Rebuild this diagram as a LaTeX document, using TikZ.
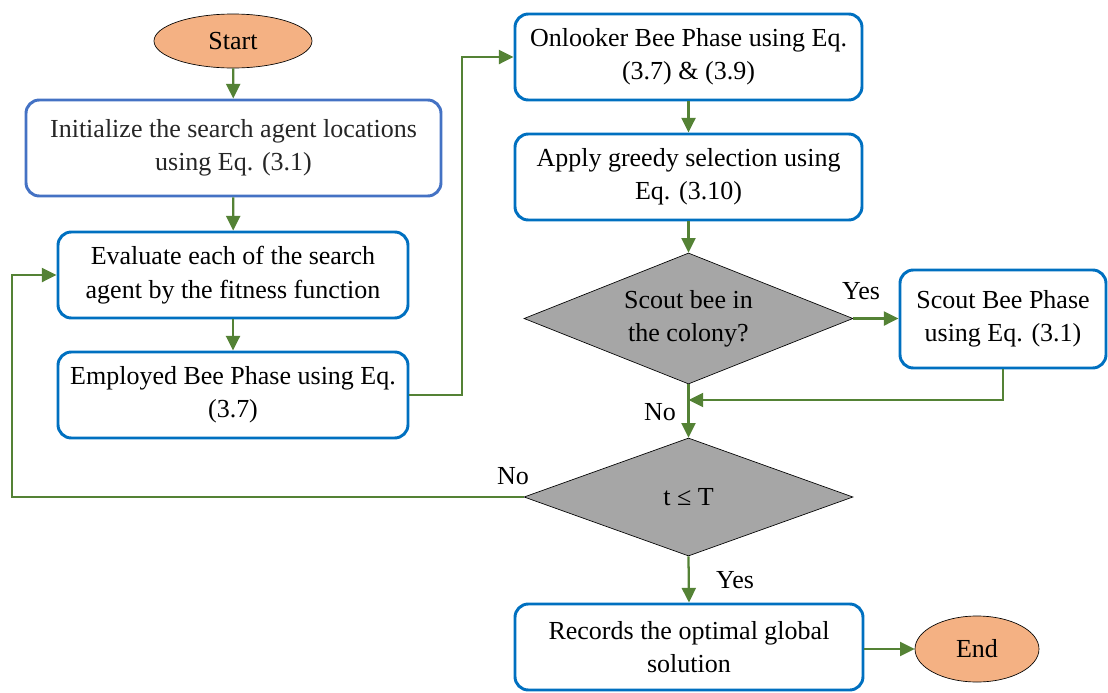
\documentclass[tikz,border=0pt]{standalone}
\usepackage{fontspec}
\setmainfont{Liberation Serif}
\newfontfamily\flowfont{Liberation Serif}
\usetikzlibrary{shapes.geometric,arrows.meta}
\definecolor{boxblue}{HTML}{0070C0}
\definecolor{firstblue}{HTML}{4472C4}
\definecolor{flowgreen}{HTML}{548235}
\definecolor{termfill}{HTML}{F4B183}
\definecolor{decfill}{HTML}{A6A6A6}
\tikzset{
  flowtext/.style={font=\flowfont\fontsize{19.5}{25}\selectfont},
  procbox/.style={flowtext, draw=boxblue, line width=2.2pt, rounded corners=10pt, fill=white,
    align=center, inner sep=2pt},
  terminal/.style={flowtext, ellipse, draw=black, line width=0.5pt, fill=termfill,
    inner sep=0pt},
  decision/.style={flowtext, diamond, draw=black, line width=0.5pt, fill=decfill,
    inner sep=0pt, align=center},
  flow/.style={draw=flowgreen, line width=1.7pt,
    -{Triangle[length=11pt,width=10.5pt]}},
  tag/.style={flowtext}
}
\begin{document}
\begin{tikzpicture}[x=0.75pt,y=-0.75pt]
\useasboundingbox (0,0) rectangle (1108,693);

% terminals
\node[terminal, minimum width=118.5pt, minimum height=40.5pt] (start) at (233,41) {Start};
\node[terminal, minimum width=93pt, minimum height=49.5pt] (end) at (977,649) {End};

% left column
\node[procbox, draw=firstblue, text=black!85, minimum width=311.25pt, minimum height=72pt] (init) at (233.5,148)
  {Initialize the search agent locations\\using Eq. (3.1)};
\node[procbox, minimum width=262.5pt, minimum height=64.5pt] (eval) at (233,275)
  {Evaluate each of the search\\agent by the fitness function};
\node[procbox, minimum width=262.5pt, minimum height=64.5pt] (employ) at (233,395)
  {Employed Bee Phase using Eq.\\(3.7)};

% right column
\node[procbox, minimum width=260.25pt, minimum height=64.5pt] (onlook) at (688.5,57)
  {Onlooker Bee Phase using Eq.\\(3.7) \& (3.9)};
\node[procbox, minimum width=260.25pt, minimum height=64.5pt] (greedy) at (688.5,177)
  {Apply greedy selection using\\Eq. (3.10)};
\node[decision, shape aspect=2.5, minimum width=246.75pt, minimum height=98.25pt] (scoutq) at (688.5,318.5)
  {Scout bee in\\the colony?};
\node[procbox, minimum width=154.5pt, minimum height=73.5pt] (scout) at (1003,319)
  {Scout Bee Phase\\using Eq. (3.1)};
\node[decision, shape aspect=2.79, minimum width=246.75pt, minimum height=88.5pt] (iter) at (688.5,497)
  {t ≤ T};
\node[procbox, minimum width=261pt, minimum height=64.5pt] (record) at (689,647)
  {Records the optimal global\\solution};

% bend points
\coordinate (upjoin) at (462,57);
\coordinate (merge) at (688.5,400);
\coordinate (loopback) at (12,497);

% connectors
\draw[flow] (start) -- (init);
\draw[flow] (init) -- (eval);
\draw[flow] (eval) -- (employ);
\draw[flow] (employ.east) -| (upjoin) -- (onlook.west);
\draw[flow] (onlook) -- (greedy);
\draw[flow] (greedy) -- (scoutq);
\draw[flow] (scoutq.east) -- (scout.west |- scoutq.east);
\draw[flow] (scout.south) |- (merge);
\draw[flow] (scoutq.south) -- (iter.north);
\draw[flow] (iter.west) -- (loopback) |- (eval.west);
\draw[flow] (iter.south) -- (record.north);
\draw[flow] (record.east |- end.west) -- (end.west);

% branch labels
\node[tag] (yes1) at (861,291) {Yes};
\node[tag] (no1) at (660,412) {No};
\node[tag] (no2) at (513,476) {No};
\node[tag] (yes2) at (735,580) {Yes};
\end{tikzpicture}
\end{document}
